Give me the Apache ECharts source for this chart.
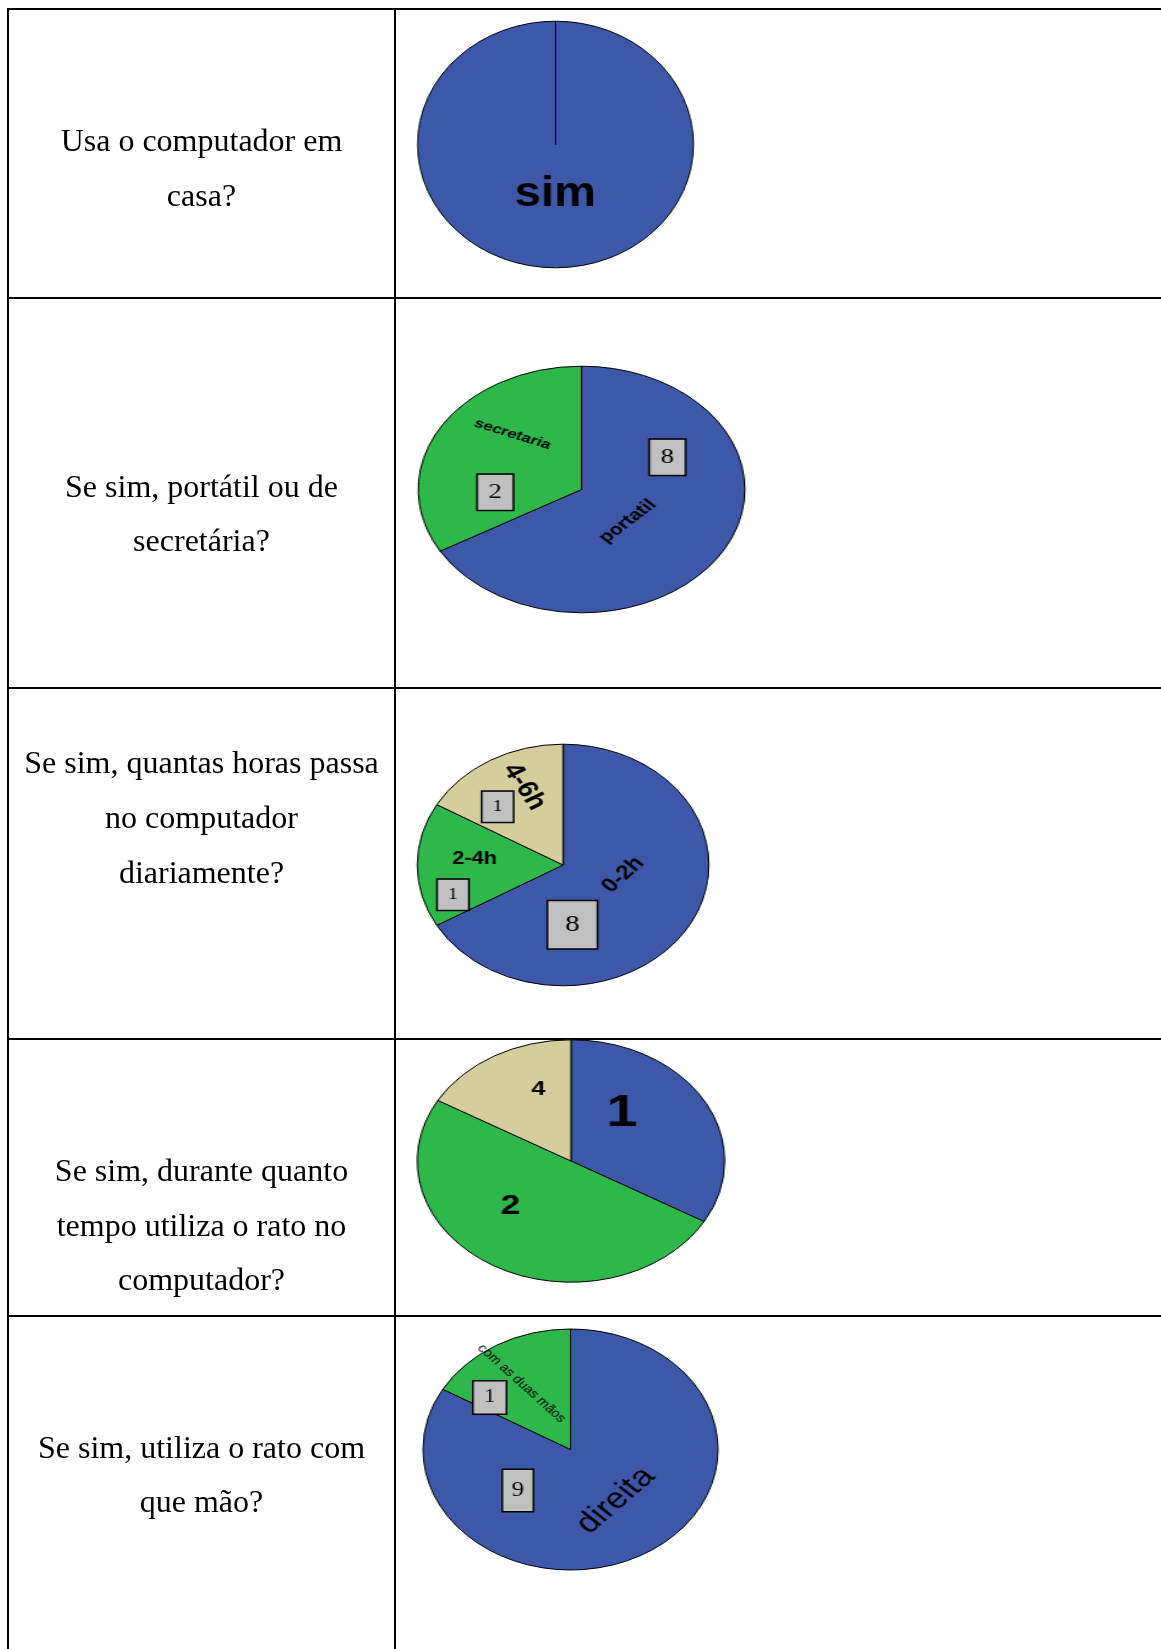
<!DOCTYPE html>
<html>
<head>
<meta charset="utf-8">
<script src="https://cdn.jsdelivr.net/npm/echarts@6/dist/echarts.min.js"></script>
<style>
html, body { margin: 0; padding: 0; background: #fff; }
#page { position: absolute; left: 0; top: 0; width: 1161px; height: 1649px; }
.pie { position: absolute; transform-origin: 50% 50%; }
</style>
</head>
<body>
<div id="page"></div>
<div id="pie1" class="pie"></div>
<div id="pie2" class="pie"></div>
<div id="pie3" class="pie"></div>
<div id="pie4" class="pie"></div>
<div id="pie5" class="pie"></div>
<script>
// perguntas (coluna da esquerda)
var questions = [
    ['Usa o computador em', 'casa?'],
    ['Se sim, portátil ou de', 'secretária?'],
    ['Se sim, quantas horas passa', 'no computador', 'diariamente?'],
    ['Se sim, durante quanto', 'tempo utiliza o rato no', 'computador?'],
    ['Se sim, utiliza o rato com', 'que mão?']
];

// dados dos graficos
var usaNames = ['sim', 'não'];
var usaValues = [6, 0];

var tipoNames = ['portatil', 'secretaria'];
var tipoValues = [4, 2];
var tipoCounts = ['8', '2'];

var horasNames = ['0-2h', '2-4h', '4-6h'];
var horasValues = [4, 1, 1];
var horasCounts = ['8', '1', '1'];

var ratoNames = ['1', '2', '4'];
var ratoValues = [2, 3, 1];

var maoNames = ['direita', 'com as duas mãos'];
var maoValues = [5, 1];
var maoCounts = ['9', '1'];

var colors = ['#3d58a9', '#2eb84b', '#d3ce9b'];

// tabela
var rowLines = [9, 298, 688, 1039, 1316];
var colLines = [8, 395];
var textX = 201.5;
var textBaselines = [[150, 205], [496, 550], [772, 827, 882], [1180, 1235, 1289], [1457, 1511]];

var page = echarts.init(document.getElementById('page'));
var els = [];
for (var i = 0; i < rowLines.length; i++) {
    els.push({type: 'line', shape: {x1: 7, y1: rowLines[i], x2: 1161, y2: rowLines[i]},
        style: {stroke: '#000', lineWidth: 2}});
}
for (var j = 0; j < colLines.length; j++) {
    els.push({type: 'line', shape: {x1: colLines[j], y1: 8, x2: colLines[j], y2: 1649},
        style: {stroke: '#000', lineWidth: 2}});
}
for (var r = 0; r < questions.length; r++) {
    for (var l = 0; l < questions[r].length; l++) {
        els.push({type: 'text', x: textX, y: textBaselines[r][l] - 7.5,
            style: {text: questions[r][l], fontSize: 32, fontFamily: '"Liberation Serif", "Times New Roman", serif',
                fill: '#000', align: 'center', verticalAlign: 'middle'}});
    }
}
page.setOption({animation: false, graphic: {elements: els}});

// pizza: circulo esticado em elipse via CSS (como no original)
function makePie(box, names, values, counts, nameLbl, countLbl) {
    var pad = 12;
    var size = 2 * (box.ry + pad);
    var el = document.getElementById(box.id);
    el.style.left = (box.cx - size / 2) + 'px';
    el.style.top = (box.cy - size / 2) + 'px';
    el.style.width = size + 'px';
    el.style.height = size + 'px';
    el.style.transform = 'scaleX(' + (box.rx / box.ry) + ')';
    var chart = echarts.init(el);

    function place(lbls) {
        return function (p) {
            var s = lbls[p.dataIndex];
            if (!s) { return {}; }
            return {x: size / 2 + s.off[0], y: size / 2 + s.off[1], rotate: s.rot || 0,
                align: 'center', verticalAlign: 'middle'};
        };
    }

    var series = [{
        type: 'pie',
        center: ['50%', '50%'],
        radius: box.ry,
        startAngle: 90,
        clockwise: true,
        silent: true,
        avoidLabelOverlap: false,
        color: colors,
        data: names.map(function (n, i) {
            var s = nameLbl[i];
            return {name: n, value: values[i],
                label: s ? {show: true, fontSize: s.size, fontWeight: s.weight || 'normal'} : {show: false}};
        }),
        itemStyle: {borderColor: '#000', borderWidth: 1},
        label: {show: true, position: 'inside', color: '#000', formatter: '{b}',
            fontFamily: '"Liberation Sans", Arial, sans-serif'},
        labelLine: {show: false},
        labelLayout: place(nameLbl)
    }];

    if (counts) {
        series.push({
            type: 'pie',
            center: ['50%', '50%'],
            radius: box.ry,
            startAngle: 90,
            clockwise: true,
            silent: true,
            avoidLabelOverlap: false,
            data: names.map(function (n, i) {
                var s = countLbl[i];
                return {name: n, value: values[i],
                    label: {fontSize: s.size, width: s.w, height: s.h, lineHeight: s.h}};
            }),
            itemStyle: {color: 'rgba(0,0,0,0)', borderWidth: 0},
            label: {show: true, position: 'inside', color: '#000', align: 'center',
                fontFamily: '"Liberation Serif", "Times New Roman", serif',
                backgroundColor: '#c0c0c0', borderColor: '#000', borderWidth: 1.5,
                formatter: function (p) { return counts[p.dataIndex]; }},
            labelLine: {show: false},
            labelLayout: place(countLbl)
        });
    }
    chart.setOption({animation: false, series: series});
    return chart;
}

makePie({id: 'pie1', cx: 555, cy: 144.5, rx: 138, ry: 123.3}, usaNames, usaValues, null,
    [{off: [0, 50], size: 42, weight: 'bold'}, null], null);

makePie({id: 'pie2', cx: 581.7, cy: 489.5, rx: 163.3, ry: 123.3}, tipoNames, tipoValues, tipoCounts,
    [{off: [35, 32], rot: 45, size: 16, weight: 'bold'},
     {off: [-52, -55], rot: -22, size: 13, weight: 'bold'}],
    [{off: [65, -32], size: 20, w: 26, h: 35},
     {off: [-65, 3], size: 20, w: 26, h: 35}]);

makePie({id: 'pie3', cx: 563.2, cy: 864.5, rx: 145.8, ry: 120.8}, horasNames, horasValues, horasCounts,
    [{off: [50, 10], rot: 47, size: 20, weight: 'bold'},
     {off: [-73, -6], size: 18, weight: 'bold'},
     {off: [-32, -78], rot: -60, size: 24, weight: 'bold'}],
    [{off: [8, 60], size: 24, w: 40, h: 47},
     {off: [-91, 30], size: 16, w: 25, h: 30},
     {off: [-54, -58], size: 16, w: 25, h: 30}]);

makePie({id: 'pie4', cx: 571.3, cy: 1161.2, rx: 153.7, ry: 121.2}, ratoNames, ratoValues, null,
    [{off: [40, -47], size: 44, weight: 'bold'},
     {off: [-48, 45], size: 28, weight: 'bold'},
     {off: [-26, -72], size: 20, weight: 'bold'}], null);

makePie({id: 'pie5', cx: 570.8, cy: 1449.5, rx: 147.5, ry: 120.5}, maoNames, maoValues, maoCounts,
    [{off: [37, 51], rot: 46.5, size: 29},
     {off: [-40, -66], rot: -47.6, size: 12}],
    [{off: [-43, 41], size: 20, w: 24, h: 41},
     {off: [-66, -52], size: 18, w: 26, h: 32}]);
</script>
</body>
</html>
